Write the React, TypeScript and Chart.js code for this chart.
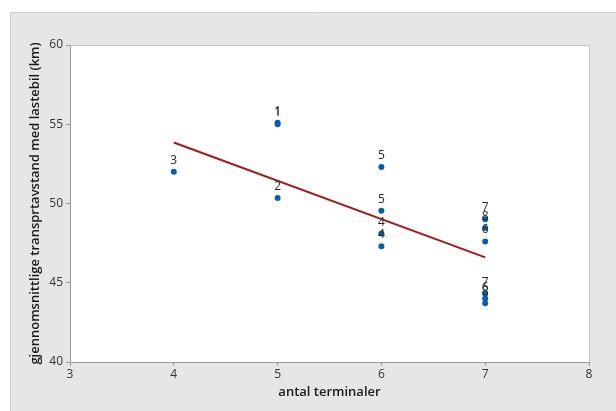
import React, { useEffect, useRef } from "react";
import { Chart, registerables } from "chart.js";

Chart.register(...registerables);

const xValues: number[] = [4, 5, 5, 5, 6, 6, 6, 6, 7, 7, 7, 7, 7, 7];
const yValues: number[] = [52.0, 55.1, 55.0, 50.35, 52.3, 49.55, 48.1, 47.3, 49.0, 48.45, 47.6, 44.3, 44.0, 43.7];
const pointLabels: string[] = ["3", "1", "1", "2", "5", "5", "4", "4", "7", "8", "6", "7", "6", "8"];
const fitX: number[] = [4, 7];
const fitY: number[] = [53.85, 46.6];
const xTitle = "antal terminaler";
const yTitle = "gjennomsnittlige transprtavstand med lastebil (km)";

const FONT = "'Open Sans', 'Noto Sans', sans-serif";

const framePlugin = {
  id: "frame",
  beforeDraw(chart: any) {
    const { ctx, chartArea, width, height } = chart;
    ctx.save();
    ctx.fillStyle = "#ffffff";
    ctx.fillRect(0, 0, width, height);
    ctx.fillStyle = "#e6e6e6";
    ctx.fillRect(10, 12, width - 10, height - 12);
    ctx.strokeStyle = "#cdcdcd";
    ctx.lineWidth = 1;
    ctx.beginPath();
    ctx.moveTo(10.5, height);
    ctx.lineTo(10.5, 12.5);
    ctx.lineTo(width, 12.5);
    ctx.stroke();
    ctx.fillStyle = "#ffffff";
    ctx.fillRect(chartArea.left, chartArea.top, chartArea.right - chartArea.left, chartArea.bottom - chartArea.top);
    ctx.strokeStyle = "#c4c4c4";
    ctx.beginPath();
    ctx.moveTo(chartArea.left + 0.5, chartArea.top + 0.5);
    ctx.lineTo(chartArea.right + 0.5, chartArea.top + 0.5);
    ctx.lineTo(chartArea.right + 0.5, chartArea.bottom + 0.5);
    ctx.stroke();
    ctx.restore();
  },
};

const labelPlugin = {
  id: "ptLabels",
  afterDatasetsDraw(chart: any) {
    const meta = chart.getDatasetMeta(0);
    const { ctx } = chart;
    ctx.save();
    ctx.font = `12px ${FONT}`;
    ctx.fillStyle = "#2a2a2a";
    ctx.textAlign = "center";
    ctx.textBaseline = "middle";
    meta.data.forEach((el: any, i: number) => {
      ctx.fillText(pointLabels[i], el.x, el.y - 11.5);
    });
    ctx.restore();
  },
};

export default function App() {
  const ref = useRef<HTMLCanvasElement | null>(null);
  useEffect(() => {
    if (!ref.current) return;
    const chart = new Chart(ref.current, {
      type: "scatter",
      data: {
        datasets: [
          {
            type: "scatter",
            data: xValues.map((x, i) => ({ x, y: yValues[i] })),
            backgroundColor: "#0b5cad",
            borderWidth: 0,
            pointRadius: 3,
            order: 1,
          } as any,
          {
            type: "line",
            data: fitX.map((x, i) => ({ x, y: fitY[i] })),
            borderColor: "#a31b1b",
            borderWidth: 2,
            pointRadius: 0,
            fill: false,
            order: 2,
          } as any,
        ],
      },
      options: {
        animation: false,
        responsive: false,
        devicePixelRatio: 1,
        layout: { padding: { top: 45, right: 27, left: 0, bottom: 0 } },
        plugins: { legend: { display: false }, tooltip: { enabled: false } },
        scales: {
          x: {
            type: "linear",
            min: 3,
            max: 8,
            ticks: { stepSize: 1, color: "#333", font: { family: FONT, size: 12 }, padding: 1, maxRotation: 0 },
            grid: { drawOnChartArea: false, tickLength: 4, color: "#9a9a9a" },
            border: { color: "#9a9a9a" },
            title: { display: true, text: xTitle, color: "#1a1a1a", font: { family: FONT, size: 13, weight: "600" }, padding: { top: 0, bottom: 11 } },
            afterFit(scale: any) { scale.height = 49; },
          },
          y: {
            type: "linear",
            min: 40,
            max: 60,
            ticks: { stepSize: 5, color: "#333", font: { family: FONT, size: 12 }, padding: 3 },
            grid: { drawOnChartArea: false, tickLength: 4, color: "#9a9a9a" },
            border: { color: "#9a9a9a" },
            title: { display: true, text: yTitle, color: "#1a1a1a", font: { family: FONT, size: 13, weight: "600" }, padding: { top: 27, bottom: 0 } },
            afterFit(scale: any) { scale.width = 70; },
          },
        },
      } as any,
      plugins: [framePlugin, labelPlugin],
    });
    return () => chart.destroy();
  }, []);
  return (
    <div style={{ position: "fixed", left: 0, top: 0, width: 616, height: 411 }}>
      <canvas ref={ref} width={616} height={411} style={{ width: 616, height: 411, display: "block" }} />
    </div>
  );
}
